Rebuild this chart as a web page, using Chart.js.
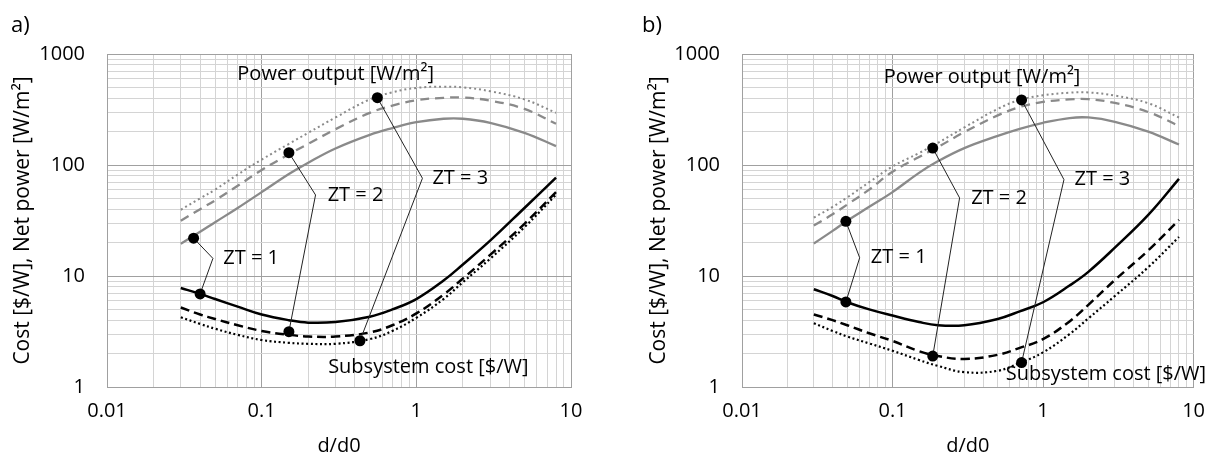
<!DOCTYPE html>
<html>
<head>
<meta charset="utf-8">
<script src="https://cdn.jsdelivr.net/npm/chart.js@4.4.1/dist/chart.umd.min.js"></script>
<style>
  body { margin: 0; background: #fff; }
  #wrap { position: relative; width: 1217px; height: 462px; font-family: 'Open Sans', sans-serif; }
  canvas { position: absolute; top: 0; }
  .tag { position: absolute; top: 8px; font-size: 22px; line-height: 30px; color: #000; }
</style>
</head>
<body>
<div id="wrap">
  <canvas id="chartA" width="600" height="462" style="left:0"></canvas>
  <canvas id="chartB" width="609" height="462" style="left:608px"></canvas>
  <div class="tag" style="left:11px">a)</div>
  <div class="tag" style="left:642px">b)</div>
</div>
<script>
// d/d0 sample points shared by every curve
const dRatio = [0.03, 0.04, 0.05, 0.07, 0.1, 0.15, 0.2, 0.3, 0.5, 0.7, 1, 1.5, 2, 3, 5, 8];

// tick labels (decades only, minor grid in between)
const ticksX = [0.01, 0.1, 1, 10];
const ticksY = [1, 10, 100, 1000];

// panel a) power output [W/m2]
const powerA1 = [19.5, 25, 30.5, 41, 57, 83, 105, 141, 187, 215, 243, 261, 261, 240, 195, 148];
const powerA2 = [31.5, 40, 48, 65, 90, 125, 155, 210, 295, 343, 383, 403, 405, 380, 320, 235];
const powerA3 = [39.5, 50, 60, 82, 112, 155, 195, 268, 390, 452, 495, 508, 500, 462, 390, 295];
// panel a) subsystem cost [$/W]
const costA1 = [7.8, 6.9, 6.2, 5.3, 4.5, 4.0, 3.8, 3.85, 4.3, 5.0, 6.2, 9.1, 12.7, 20.8, 41, 77];
const costA2 = [5.2, 4.5, 4.1, 3.6, 3.2, 2.95, 2.85, 2.85, 3.1, 3.6, 4.6, 6.8, 9.5, 15.5, 29.5, 57];
const costA3 = [4.25, 3.7, 3.35, 2.95, 2.65, 2.5, 2.45, 2.45, 2.7, 3.2, 4.2, 6.2, 8.8, 14.3, 27.5, 54];

// panel b) power output [W/m2]
const powerB1 = [19.6, 25.5, 31.5, 42, 57, 85, 108, 142, 183, 212, 240, 265, 268, 245, 200, 153];
const powerB2 = [28.5, 36, 44, 60, 87, 118, 145, 198, 280, 333, 370, 390, 392, 362, 300, 225];
const powerB3 = [33.5, 42, 51, 70, 97, 128, 158, 218, 320, 385, 425, 448, 450, 422, 360, 268];
// panel b) subsystem cost [$/W]
const costB1 = [7.6, 6.6, 5.8, 5.0, 4.4, 3.85, 3.6, 3.6, 4.1, 4.8, 5.8, 8.2, 10.9, 18, 35.5, 75];
const costB2 = [4.5, 4.0, 3.6, 3.05, 2.6, 2.1, 1.9, 1.79, 1.95, 2.25, 2.7, 3.9, 5.5, 9.2, 17, 32];
const costB3 = [3.75, 3.2, 2.85, 2.47, 2.12, 1.75, 1.55, 1.36, 1.4, 1.65, 2.05, 3.0, 4.15, 6.6, 12, 22.5];

// ZT call-outs: upper dot -> elbow -> lower dot
const leaderXA = [[0.0363, 0.0484, 0.040], [0.150, 0.223, 0.150], [0.56, 1.095, 0.432]];
const leaderYA = [[21.9, 14.4, 6.9], [129, 53.7, 3.15], [404, 75.9, 2.61]];
const leaderXB = [[0.049, 0.0605, 0.049], [0.185, 0.279, 0.185], [0.72, 1.377, 0.72]];
const leaderYB = [[31.1, 14.6, 5.84], [142, 50.5, 1.9], [386, 73.8, 1.66]];

const ztLabels = ['ZT = 1', 'ZT = 2', 'ZT = 3'];

const GRAY = '#8a8a8a';
const FONT = "'Open Sans', sans-serif";

function pts(xs, ys) {
  return xs.map((x, i) => ({ x: x, y: ys[i] }));
}

function logGrid(majors) {
  const vals = [];
  majors.forEach((m, i) => {
    vals.push(m);
    if (i < majors.length - 1) {
      for (let k = 2; k <= 9; k++) vals.push(+(m * k).toPrecision(6));
    }
  });
  return vals;
}

// text notes drawn in data coordinates
const notesPlugin = {
  id: 'notes',
  afterDatasetsDraw(chart) {
    const notes = chart.options.plugins.notes.items;
    const { ctx, scales } = chart;
    ctx.save();
    ctx.font = '20px ' + FONT;
    ctx.fillStyle = '#000';
    ctx.textAlign = 'left';
    ctx.textBaseline = 'middle';
    notes.forEach(n => {
      ctx.fillText(n.text, scales.x.getPixelForValue(n.x), scales.y.getPixelForValue(n.y));
    });
    ctx.restore();
  }
};

function axis(majors, extra) {
  return Object.assign({
    type: 'logarithmic',
    min: majors[0],
    max: majors[majors.length - 1],
    afterBuildTicks: a => {
      a.ticks = logGrid(majors).map(v => ({ value: v, major: majors.includes(v) }));
    },
    grid: {
      drawTicks: false,
      color: c => (c.tick && c.tick.major) ? '#a0a0a0' : '#d4d4d4',
      lineWidth: 1
    },
    border: { display: true, color: '#a0a0a0' },
    ticks: {
      autoSkip: false,
      maxRotation: 0,
      minRotation: 0,
      color: '#000',
      font: { family: FONT, size: 20 },
      callback: (v, i, t) => t[i].major ? String(v) : ''
    }
  }, extra);
}

function buildPanel(id, p) {
  const datasets = [];
  // dots first so they sit on top
  const dotX = [], dotY = [];
  p.leaderX.forEach((xs, i) => {
    dotX.push(xs[0], xs[2]);
    dotY.push(p.leaderY[i][0], p.leaderY[i][2]);
  });
  datasets.push({
    data: pts(dotX, dotY), showLine: false,
    pointRadius: 5.5, pointBackgroundColor: '#000', pointBorderWidth: 0
  });
  p.leaderX.forEach((xs, i) => {
    datasets.push({
      data: pts(xs, p.leaderY[i]), showLine: true, borderColor: '#222', borderWidth: 1,
      pointRadius: 0, tension: 0
    });
  });
  const curve = (ys, color, width, dash) => ({
    data: pts(dRatio, ys), showLine: true, borderColor: color, borderWidth: width,
    borderDash: dash, pointRadius: 0, tension: 0.4
  });
  datasets.push(
    curve(p.cost[0], '#000', 2.5, []),
    curve(p.cost[1], '#000', 2.5, [9, 5]),
    curve(p.cost[2], '#000', 2.2, [2, 2.6]),
    curve(p.power[0], GRAY, 2.3, []),
    curve(p.power[1], GRAY, 2.3, [9, 6]),
    curve(p.power[2], GRAY, 2, [2, 3])
  );

  return new Chart(document.getElementById(id), {
    type: 'scatter',
    data: { datasets: datasets },
    plugins: [notesPlugin],
    options: {
      responsive: false,
      animation: false,
      events: [],
      layout: { padding: { top: 54, right: p.rightPad, bottom: 0, left: 0 } },
      plugins: {
        legend: { display: false },
        tooltip: { enabled: false },
        notes: { items: p.notes }
      },
      scales: {
        x: axis(ticksX, {
          afterFit: a => { a.height = 75; },
          ticks: Object.assign(axis(ticksX).ticks, { padding: 12 }),
          title: {
            display: true, text: 'd/d0', color: '#000',
            font: { family: FONT, size: 20 }, padding: { top: 0, bottom: 4 }
          }
        }),
        y: axis(ticksY, {
          afterFit: a => { a.width = p.axisWidth; },
          ticks: Object.assign(axis(ticksY).ticks, { padding: 22 }),
          title: {
            display: true, text: 'Cost [$/W], Net power [W/m²]', color: '#000',
            font: { family: FONT, size: 21 }, padding: { top: p.titlePad, bottom: 0 }
          }
        })
      }
    }
  });
}

buildPanel('chartA', {
  power: [powerA1, powerA2, powerA3],
  cost: [costA1, costA2, costA3],
  leaderX: leaderXA, leaderY: leaderYA,
  axisWidth: 107, rightPad: 29, titlePad: 10,
  notes: [
    { text: 'Power output [W/m²]', x: 0.0696, y: 661 },
    { text: 'Subsystem cost [$/W]', x: 0.269, y: 1.52 },
    { text: ztLabels[0], x: 0.0565, y: 14.5 },
    { text: ztLabels[1], x: 0.267, y: 53.7 },
    { text: ztLabels[2], x: 1.27, y: 76 }
  ]
});

buildPanel('chartB', {
  power: [powerB1, powerB2, powerB3],
  cost: [costB1, costB2, costB3],
  leaderX: leaderXB, leaderY: leaderYB,
  axisWidth: 134, rightPad: 16, titlePad: 38,
  notes: [
    { text: 'Power output [W/m²]', x: 0.0873, y: 617 },
    { text: 'Subsystem cost [$/W]', x: 0.565, y: 1.31 },
    { text: ztLabels[0], x: 0.0718, y: 14.6 },
    { text: ztLabels[1], x: 0.333, y: 50.5 },
    { text: ztLabels[2], x: 1.62, y: 73.8 }
  ]
});
</script>
</body>
</html>
